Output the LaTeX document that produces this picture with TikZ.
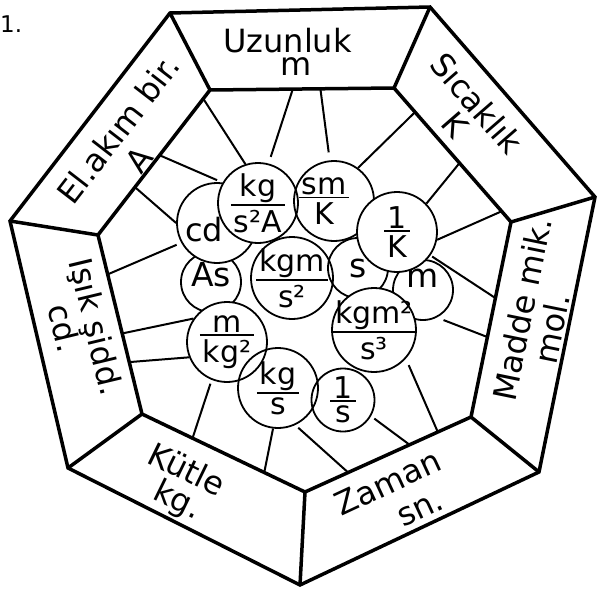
\documentclass[tikz,border=0pt]{standalone}
\usepackage{fontspec}
\setmainfont{DejaVu Sans}
\usetikzlibrary{calc}
% stacked unit with a bar, kept zero wide so the circle keeps its size
\newcommand{\frc}[2]{\makebox[0pt]{\vbox{\halign{\hskip3pt\hfil##\hfil\hskip3pt\cr #1\cr\noalign{\kern1.5pt\hrule height1.8pt\kern4pt}#2\cr}}}}
\newcommand{\nudgeleft}[2]{\makebox[0pt]{#2\hspace*{#1}}}

\begin{document}
\begin{tikzpicture}[
      x=1pt,y=-1pt,
      band/.style={line width=3.5pt},
      spoke/.style={line width=2pt},
      unit/.style={circle,draw,line width=1.8pt,inner sep=0pt,font=\fontsize{30}{30}\selectfont},
      single/.style={font=\fontsize{33}{33}\selectfont},
      cover/.style={fill=white},
      lbl/.style={inner sep=0pt,font=\fontsize{32}{32}\selectfont}]
    \useasboundingbox (0,0) rectangle (597,589);
    \node[anchor=west,inner sep=0pt,font=\fontsize{23}{23}\selectfont] (num) at (0,24) {1.};
    % outer and inner heptagon
    \coordinate (O1) at (170,13);  \coordinate (I1) at (210,90);
    \coordinate (O2) at (430,7);   \coordinate (I2) at (394,88);
    \coordinate (O3) at (595,197); \coordinate (I3) at (511,222);
    \coordinate (O4) at (539,472); \coordinate (I4) at (471,417);
    \coordinate (O5) at (300,585); \coordinate (I5) at (305,492);
    \coordinate (O6) at (68,468);  \coordinate (I6) at (142,414);
    \coordinate (O7) at (10,221);  \coordinate (I7) at (98,235);
    \draw[band] (O1) -- (O2) -- (O3) -- (O4) -- (O5) -- (O6) -- (O7) -- cycle;
    \draw[band] (I1) -- (I2) -- (I3) -- (I4) -- (I5) -- (I6) -- (I7) -- cycle;
    \foreach \i in {1,...,7} \draw[band] (O\i) -- (I\i);
    % base quantities
    \node[lbl] (uzun) at (287.5,41) {Uzunluk};
    \node[lbl] (uzunU) at (296.5,67) {m};
    \node[lbl,rotate=-49] (sicak) at (477,103) {Sıcaklık};
    \node[lbl,rotate=-49] (sicakU) at (455.5,125) {K};
    \node[lbl,rotate=78.5] (madde) at (522,309) {Madde mik.};
    \node[lbl,rotate=78.5] (maddeU) at (551.5,328.5) {mol.};
    \node[lbl,rotate=25] (zaman) at (388,482.5) {Zaman};
    \node[lbl,rotate=25] (zamanU) at (421,510) {sn.};
    \node[lbl,rotate=-26] (kutle) at (187.5,469) {Kütle};
    \node[lbl,rotate=-26] (kutleU) at (177,501) {kg.};
    \node[lbl,rotate=-76.5] (isik) at (94,327.5) {Işık şidd.};
    \node[lbl,rotate=-76.5] (isikU) at (64.5,328) {cd.};
    \node[lbl,rotate=52.3] (akim) at (118,129) {El.akım bir.};
    \node[lbl,rotate=52.3] (akimU) at (139,159.5) {A};
    % derived units
    \node[unit,single,minimum size=60pt] (m) at (423,290) {\rule[-24pt]{0pt}{24pt}m};
    \node[unit,single,minimum size=60pt] (As) at (211,282) {\rule[-16pt]{0pt}{16pt}As};
    \node[unit,cover,font=\fontsize{32}{32}\selectfont,minimum size=80pt] (cd) at (217,223) {\nudgeleft{26pt}{cd}\rule{0pt}{38pt}};
    \node[unit,cover,minimum size=80pt] (kgsA) at (258,203) {\frc{kg}{s²A}};
    \node[unit,minimum size=80pt] (smK) at (334,201) {\nudgeleft{20pt}{\frc{sm}{K}}};
    \node[unit,single,cover,minimum size=60pt] (s) at (358,268) {s};
    \node[unit,cover,minimum size=80pt] (invK) at (397,232) {\frc{1}{K}};
    \node[unit,cover,minimum size=84pt] (kgms3) at (374,330) {\frc{kgm²}{s³}};
    \node[unit,minimum size=82pt] (kgms2) at (292,278) {\frc{kgm}{s²}};
    \node[unit,cover,minimum size=80pt] (mkg) at (227,342) {\frc{m}{kg²}};
    \node[unit,minimum size=80pt] (kgs) at (278,388) {\frc{kg}{s}};
    \node[unit,minimum size=63pt] (invs) at (343,400) {\frc{1}{s}};
    % spokes to the inner heptagon
    \foreach \n/\a/\b/\t in {1/I7/I1/0.94, 2/I1/I2/0.45, 3/I1/I2/0.60, 4/I2/I3/0.18, 5/I2/I3/0.56,
        6/I2/I3/0.92, 7/I3/I4/0.39, 8/I3/I4/0.59, 9/I4/I5/0.2, 10/I4/I5/0.37, 11/I4/I5/0.74,
        12/I5/I6/0.25, 13/I5/I6/0.69, 14/I6/I7/0.29, 15/I6/I7/0.45, 16/I6/I7/0.78,
        17/I7/I1/0.33, 18/I7/I1/0.55}
      \coordinate (e\n) at ($(\a)!\t!(\b)$);
    \foreach \c/\e/\g in {kgsA.108/e1/0pt, kgsA.75/e2/7pt, smK.96/e3/8pt, smK.54/e4/0pt,
        invK.44/e5/0pt, invK.-11/e6/0pt, invK.-35/e7/2pt, m.-63/e8/7pt, kgms3.-42/e9/7pt,
        invs.-30/e10/4pt, kgs.-65/e11/4pt, kgs.-97/e12/0pt, mkg.-112/e13/4pt,
        mkg.202/e14/0pt, mkg.145/e15/0pt, cd.209/e16/5pt, cd.180/e17/0pt, kgsA.150/e18/6pt}
      \draw[spoke,shorten <=\g] (\c) -- (\e);
  \end{tikzpicture}
\end{document}
